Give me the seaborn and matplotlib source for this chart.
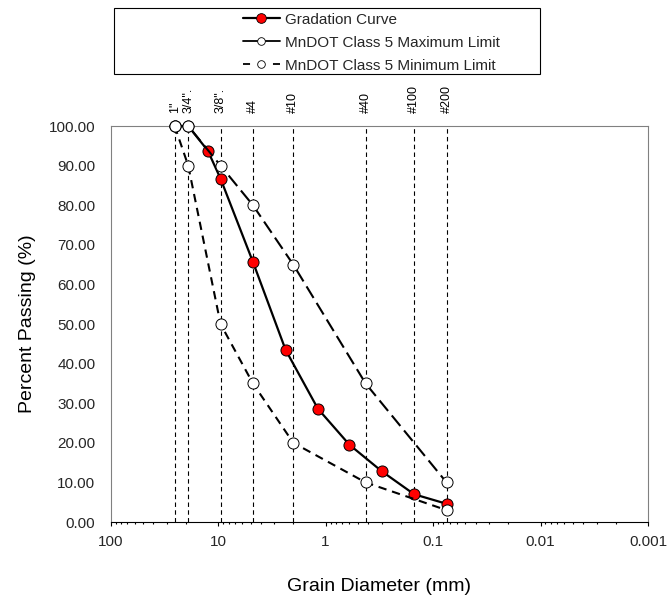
import matplotlib
matplotlib.use('Agg')
import matplotlib.pyplot as plt
import seaborn as sns
from matplotlib.lines import Line2D
from matplotlib.patches import Rectangle
from matplotlib.ticker import FixedLocator, FuncFormatter, LogLocator, NullFormatter

# ---- data ----
gradation_sizes = [25.4, 19.0, 12.5, 9.5, 4.75, 2.36, 1.18, 0.6, 0.3, 0.15, 0.075]
gradation_pass = [100, 100, 93.8, 86.7, 65.7, 43.5, 28.6, 19.5, 12.8, 7.0, 4.6]
spec_sizes = [25.4, 19.0, 9.5, 4.75, 2.0, 0.425, 0.075]
max_limit = [100, 100, 90, 80, 65, 35, 10]
min_limit = [100, 90, 50, 35, 20, 10, 3]
sieve_sizes = [25.4, 19.0, 9.5, 4.75, 2.0, 0.425, 0.15, 0.075]
sieve_labels = ['1"', '3/4".', '3/8".', '#4', '#10', '#40', '#100', '#200']
y_ticks = [0, 10, 20, 30, 40, 50, 60, 70, 80, 90, 100]
legend_labels = ['Gradation Curve', 'MnDOT Class 5 Maximum Limit', 'MnDOT Class 5 Minimum Limit']

sns.set_theme(style='white')
plt.rcParams['font.family'] = ['Liberation Sans', 'DejaVu Sans']

W, H = 667, 596
fig = plt.figure(figsize=(W / 100, H / 100), dpi=100, facecolor='white')
ax = fig.add_axes([110.7 / W, 1 - 522 / H, 537.3 / W, 396 / H])
ax.set_xscale('log')

# sieve reference lines
ax.vlines(sieve_sizes, 0, 100, colors='black', linewidth=0.8,
          linestyles=(0, (4, 3)), zorder=1)

sns.lineplot(x=gradation_sizes, y=gradation_pass, ax=ax, color='black', linewidth=1.6,
             marker='o', markersize=8, markerfacecolor='red', markeredgecolor='black',
             markeredgewidth=0.7, sort=False, estimator=None, legend=False, zorder=3)
sns.lineplot(x=spec_sizes, y=max_limit, ax=ax, color='black', linewidth=1.5,
             marker='o', markersize=8, markerfacecolor='white', markeredgecolor='black',
             markeredgewidth=0.7, sort=False, estimator=None, legend=False, zorder=4)
ax.lines[-1].set_linestyle((0, (6.5, 2.8)))
sns.lineplot(x=spec_sizes, y=min_limit, ax=ax, color='black', linewidth=1.5,
             marker='o', markersize=8, markerfacecolor='white', markeredgecolor='black',
             markeredgewidth=0.7, sort=False, estimator=None, legend=False, zorder=5)
ax.lines[-1].set_linestyle((0, (4, 2.8)))
for ln in ax.lines:
    ln.set_clip_on(False)

ax.set_xlim(100, 0.001)
ax.set_ylim(0, 100)

ax.xaxis.set_major_locator(LogLocator(base=10, numticks=10))
ax.xaxis.set_minor_locator(LogLocator(base=10, subs=range(2, 10), numticks=20))
ax.xaxis.set_major_formatter(FuncFormatter(lambda v, p: f'{v:g}'))
ax.xaxis.set_minor_formatter(NullFormatter())
ax.yaxis.set_major_locator(FixedLocator(y_ticks))
ax.yaxis.set_major_formatter(FuncFormatter(lambda v, p: f'{v:.2f}'))

ax.tick_params(axis='x', which='major', direction='out', length=3, width=0.8,
               color='black', labelsize=11, pad=6, bottom=True, top=False)
ax.tick_params(axis='x', which='minor', direction='out', length=1.6, width=0.8,
               color='black', bottom=True, top=False)
ax.tick_params(axis='y', which='both', length=0, labelsize=11, pad=11)

for s in ['left', 'top', 'right']:
    ax.spines[s].set_color('#808080')
    ax.spines[s].set_linewidth(0.8)
ax.spines['bottom'].set_color('black')
ax.spines['bottom'].set_linewidth(0.8)

ax.set_xlabel('Grain Diameter (mm)', fontsize=14, color='black')
ax.xaxis.set_label_coords(0.5, -0.141)
ax.set_ylabel('Percent Passing (%)', fontsize=14, color='black')
ax.yaxis.set_label_coords(-0.139, 0.5)

# top sieve labels
for s, lab in zip(sieve_sizes, sieve_labels):
    ax.annotate(lab, xy=(s, 1), xycoords=('data', 'axes fraction'), xytext=(0, 9.4),
                textcoords='offset points', rotation=90, ha='center', va='bottom',
                fontsize=9, color='black')

# legend
handles = [
    Line2D([], [], color='black', lw=1.6, marker='o', ms=7, mfc='red', mec='black', mew=0.6),
    Line2D([], [], color='black', lw=1.3, marker='o', ms=5.5, mfc='white', mec='black', mew=0.6),
    Line2D([], [], color='black', lw=1.3, ls=(0, (3.9, 12.7)), marker='o', ms=5.5,
           mfc='white', mec='black', mew=0.6),
]
fig.legend(handles, legend_labels, loc='upper left', bbox_to_anchor=(243 / W, 1 - 12.5 / H),
           frameon=False, fontsize=11, handlelength=2.42, handletextpad=0.33,
           labelspacing=0.6, borderpad=0, borderaxespad=0)
fig.add_artist(Rectangle((114 / W, 1 - 74 / H), 426 / W, 66 / H, transform=fig.transFigure,
                         fill=False, edgecolor='black', linewidth=0.8))

fig.savefig('out.png', dpi=100, facecolor='white')
